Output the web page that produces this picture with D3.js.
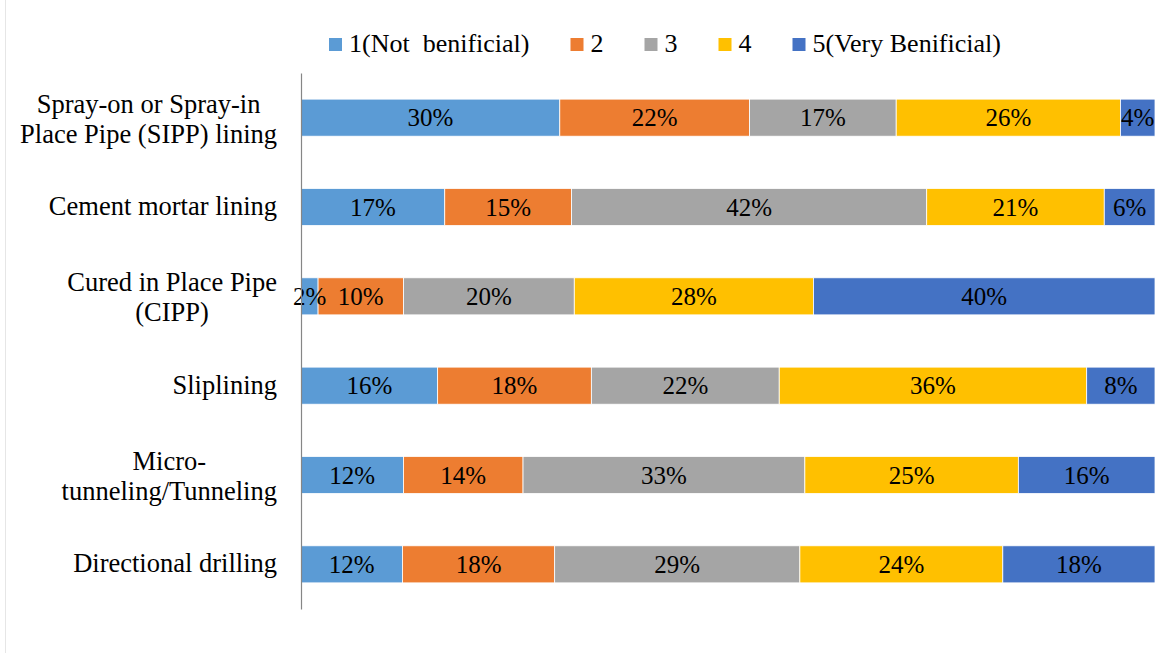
<!DOCTYPE html>
<html>
<head>
<meta charset="utf-8">
<script src="https://cdn.jsdelivr.net/npm/d3@7"></script>
</head>
<body style="margin:0">
<svg id="chart" width="1155" height="653"></svg>
<script>
// Survey: perceived benefit of each pipe rehabilitation / installation method
const categories = [
  "Spray-on or Spray-in|Place Pipe (SIPP) lining",
  "Cement mortar lining",
  "Cured in Place Pipe|(CIPP)",
  "Sliplining",
  "Micro-|tunneling/Tunneling",
  "Directional drilling"
];
const seriesNames = ["1(Not  benificial)", "2", "3", "4", "5(Very Benificial)"];
const seriesColors = ["#5B9BD5", "#ED7D31", "#A5A5A5", "#FFC000", "#4472C4"];

// Percent of respondents per rating, one array per rating
const rating1 = [30, 17, 2, 16, 12, 12];
const rating2 = [22, 15, 10, 18, 14, 18];
const rating3 = [17, 42, 20, 22, 33, 29];
const rating4 = [26, 21, 28, 36, 25, 24];
const rating5 = [4, 6, 40, 8, 16, 18];
const seriesValues = [rating1, rating2, rating3, rating4, rating5];

const FONT = '"Liberation Serif"';

const rows = categories.map((c, i) => {
  const r = { category: c };
  seriesNames.forEach((s, j) => { r[s] = seriesValues[j][i]; });
  return r;
});

const svg = d3.select("#chart");
const W = 1155, H = 653;

// faint outer frame edge
svg.append("line")
  .attr("x1", 5.5).attr("x2", 5.5).attr("y1", 0).attr("y2", H)
  .attr("stroke", "#e6e6e6").attr("stroke-width", 1);

const x = d3.scaleLinear().domain([0, 1]).range([301, 1155]);
const y = d3.scaleBand().domain(categories).range([73, 609]).paddingInner(0.585).paddingOuter(0.2925);

const stack = d3.stack().keys(seriesNames).offset(d3.stackOffsetExpand);
const layers = stack(rows);

const g = svg.append("g");
layers.forEach((layer, j) => {
  g.append("g").attr("fill", seriesColors[j])
    .selectAll("rect")
    .data(layer)
    .join("rect")
    .attr("x", d => x(d[0]))
    .attr("y", d => y(d.data.category))
    .attr("width", d => x(d[1]) - x(d[0]))
    .attr("height", y.bandwidth())
    .attr("stroke", "#fff")
    .attr("stroke-width", 0.8);
});

// value labels centred in each segment
layers.forEach((layer, j) => {
  g.append("g").selectAll("text")
    .data(layer)
    .join("text")
    .attr("x", d => (x(d[0]) + x(d[1])) / 2)
    .attr("y", d => y(d.data.category) + y.bandwidth() / 2 + 8.5)
    .attr("text-anchor", "middle")
    .style("font-family", FONT)
    .style("font-size", "25px")
    .attr("fill", "#000")
    .text(d => d.data[layer.key] + "%");
});

// category axis
const axisG = svg.append("g").attr("transform", "translate(301,0)");
axisG.call(d3.axisLeft(y).tickSize(0).tickFormat(""));
axisG.select(".domain").attr("stroke", "#868686").attr("stroke-width", 1.2);

// category labels: multi-line labels are centred as a block that ends at the axis gap
const labelG = svg.append("g");
const labelRight = 277;
categories.forEach(c => {
  const lines = c.split("|");
  const cy = y(c) + y.bandwidth() / 2;
  const t = labelG.append("text")
    .attr("text-anchor", "middle")
    .style("font-family", FONT)
    .style("font-size", "26.5px")
    .attr("fill", "#000");
  const spans = lines.map((ln, k) => t.append("tspan")
    .attr("y", lines.length === 1 ? cy + 8 : cy + 10 + (k - 0.5) * 30)
    .text(ln));
  const widest = d3.max(spans, s => s.node().getComputedTextLength());
  spans.forEach(s => s.attr("x", labelRight - widest / 2));
});

// legend, laid out left to right
const leg = svg.append("g");
let lx = 329;
seriesNames.forEach((s, j) => {
  leg.append("rect")
    .attr("x", lx).attr("y", 38)
    .attr("width", 13).attr("height", 13)
    .attr("fill", seriesColors[j]);
  const t = leg.append("text")
    .attr("x", lx + 20).attr("y", 52)
    .style("font-family", FONT)
    .style("font-size", "26px")
    .style("white-space", "pre")
    .attr("fill", "#000")
    .text(s);
  lx += 20 + t.node().getComputedTextLength() + 41;
});
</script>
</body>
</html>
